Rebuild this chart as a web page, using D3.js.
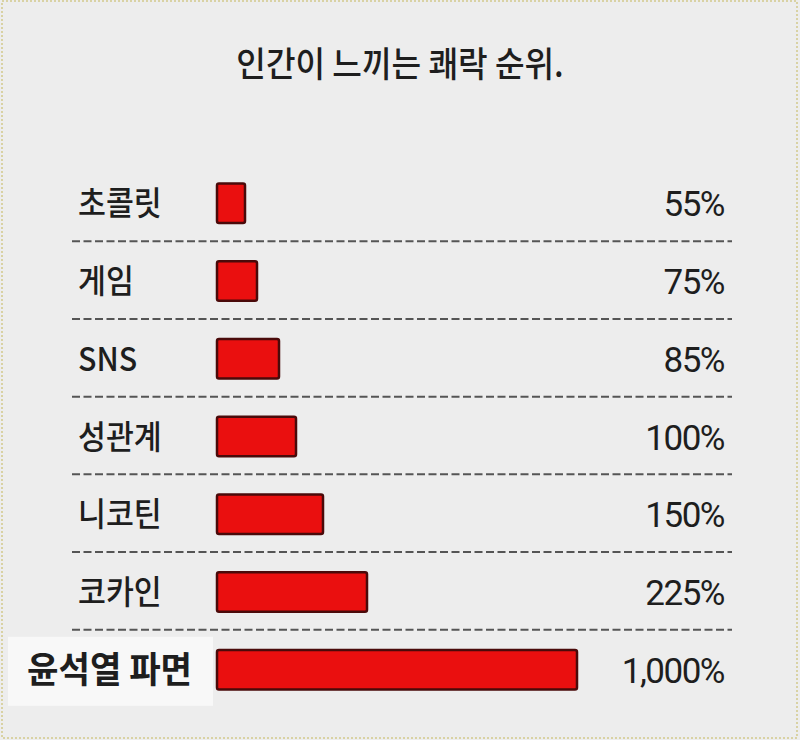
<!DOCTYPE html>
<html><head><meta charset="utf-8">
<script src="https://cdn.jsdelivr.net/npm/d3@7"></script>
<style>
html,body{margin:0;padding:0;background:#ededed;}
svg{display:block;}
</style></head>
<body>
<svg id="chart" width="800" height="740"></svg>
<script>
const title = "인간이 느끼는 쾌락 순위.";
const categories = ["초콜릿", "게임", "SNS", "성관계", "니코틴", "코카인", "윤석열 파면"];
const values = [55, 75, 85, 100, 150, 225, 1000];
// drawn bar length as it appears in the picture (not proportional to the value)
const barLength = [30, 42, 64, 81, 108, 152, 362];
const valueLabels = ["55%", "75%", "85%", "100%", "150%", "225%", "1,000%"];

const svg = d3.select("#chart");
const W = 800, H = 740;

svg.append("rect").attr("width", W).attr("height", H).attr("fill", "#ededed");
// dotted frame
svg.append("rect").attr("x", 2).attr("y", 1).attr("width", W - 5).attr("height", H - 3)
  .attr("fill", "none").attr("stroke", "#d9d2a4").attr("stroke-width", 2).attr("stroke-dasharray", "2,2");

const kfont = "'Noto Sans CJK KR', 'Noto Sans', sans-serif";

svg.append("text")
  .attr("transform", "translate(400,77) scale(0.92,1)")
  .attr("text-anchor", "middle")
  .attr("font-family", kfont).attr("font-size", 35).attr("font-weight", 500)
  .attr("fill", "#1e1e1e").text(title);

const y = d3.scaleBand().domain(categories).range([165, 710]).paddingInner(0.49).paddingOuter(0.25);
const x = d3.scaleLinear().domain([0, d3.max(barLength)]).range([0, 362]);
const x0 = 216;

// highlight box behind the last label
const last = categories[categories.length - 1];
svg.append("rect").attr("x", 8).attr("width", 205)
  .attr("y", y(last) + y.bandwidth() / 2 - 34).attr("height", 69)
  .attr("fill", "#f8f8f8");

const rows = svg.append("g");

// dashed separators between rows
const step = y.step();
rows.selectAll("line.sep").data(categories.slice(1)).join("line")
  .attr("class", "sep")
  .attr("x1", 72).attr("x2", 732)
  .attr("y1", d => y(d) - (step - y.bandwidth()) / 2 - 2)
  .attr("y2", d => y(d) - (step - y.bandwidth()) / 2 - 2)
  .attr("stroke", "#555").attr("stroke-width", 2).attr("stroke-dasharray", "8,3.5");

rows.selectAll("rect.bar").data(categories).join("rect")
  .attr("class", "bar")
  .attr("x", x0 + 1)
  .attr("y", d => y(d) - 1)
  .attr("width", (d, i) => x(barLength[i]) - 2)
  .attr("height", y.bandwidth())
  .attr("rx", 2)
  .attr("fill", "#ea0f0f").attr("stroke", "#4a0a0a").attr("stroke-width", 2.5);

const isLast = i => i === categories.length - 1;
rows.selectAll("text.cat").data(categories).join("text")
  .attr("class", "cat")
  .attr("transform", (d, i) => isLast(i)
      ? `translate(27,${y(d) + y.bandwidth() / 2 + 12}) scale(0.95,1)`
      : `translate(78,${y(d) + y.bandwidth() / 2 + 11}) scale(0.92,1)`)
  .attr("font-family", kfont)
  .attr("font-size", (d, i) => isLast(i) ? 36 : 33)
  .attr("font-weight", (d, i) => isLast(i) ? 700 : 500)
  .attr("fill", "#1e1e1e")
  .text(d => d);

rows.selectAll("text.val").data(categories).join("text")
  .attr("class", "val")
  .attr("transform", d => `translate(724,${y(d) + y.bandwidth() / 2 + 12})`)
  .attr("text-anchor", "end")
  .attr("font-family", "Roboto, 'Noto Sans', sans-serif")
  .attr("font-size", 35)
  .attr("letter-spacing", -1.5)
  .attr("fill", "#1e1e1e")
  .text((d, i) => valueLabels[i]);
</script>
</body></html>
